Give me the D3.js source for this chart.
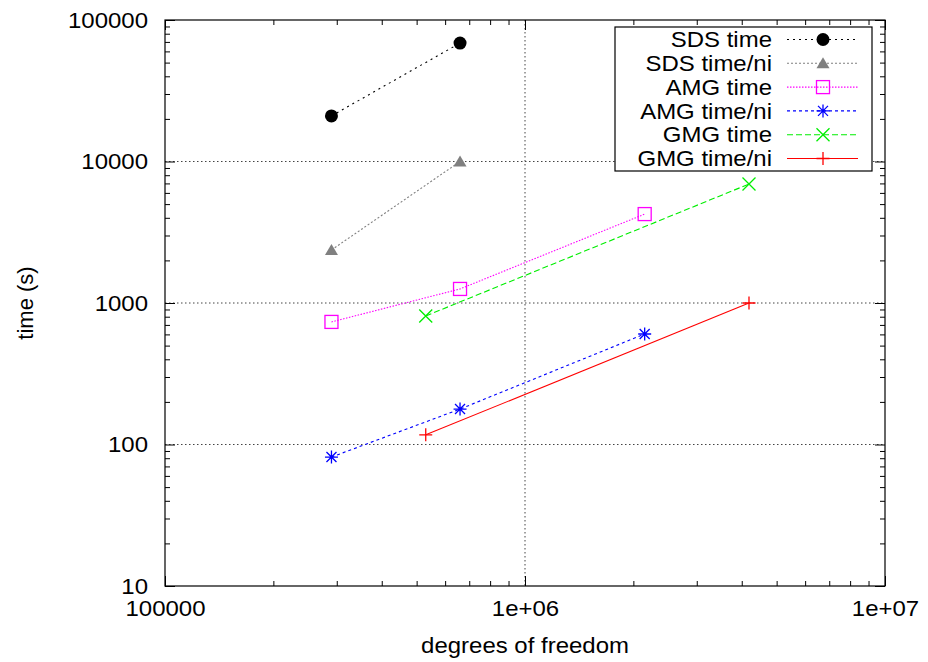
<html>
<meta charset="utf-8">
<head>
  <title>time vs degrees of freedom</title>
  <style>
    body { margin: 0; background: white; }
    text { font-family: 'Liberation Sans', Arial, sans-serif; font-size: 22px; fill: black; }
    .axis path { display: none; }
    .axis line { stroke: black; stroke-width: 1; }
    .grid line { stroke: #444; stroke-width: 1; stroke-dasharray: 1.5,2.5; }
  </style>
  <script src="https://d3js.org/d3.v7.min.js"></script>
</head>
<body>
<div id="chart"></div>
<script>
// series
var sds_dof = [290000, 660000];
var sds_time = [21000, 68700];
var sds_time_ni = [2370, 10000];

var amg_dof = [290000, 660000, 2150000];
var amg_time = [735, 1257, 4250];
var amg_time_ni = [81.5, 178, 604];

var gmg_dof = [530000, 4190000];
var gmg_time = [810, 6930];
var gmg_time_ni = [117, 1000];

var x_ticks = [1e5, 1e6, 1e7];
var x_tick_labels = ["100000", "1e+06", "1e+07"];
var y_ticks = [10, 100, 1000, 10000, 100000];
var y_tick_labels = ["10", "100", "1000", "10000", "100000"];

var names = ["SDS time", "SDS time/ni", "AMG time", "AMG time/ni", "GMG time", "GMG time/ni"];

var margin = { top: 20, right: 43, bottom: 76, left: 165 };
var width = 928 - margin.left - margin.right;
var height = 662 - margin.top - margin.bottom;
var stretch_x = 1.09;   // the picture's text is a bit wide

var x = d3.scaleLog().domain([1e5, 1e7]).range([0, width]);
var y = d3.scaleLog().domain([10, 100000]).range([height, 0]);

var svg = d3.select("#chart")
            .append("svg")
            .attr("width", 928)
            .attr("height", 662);

var chart = svg.append("g")
               .attr("transform", "translate(" + margin.left + "," + margin.top + ")");

// minor tick positions 2..9 per decade
function minors(lo, hi) {
  var out = [];
  for (var d = lo; d < hi; d *= 10) {
    for (var k = 2; k < 10; k++) out.push(d * k);
  }
  return out;
}

// move x/y into a transform so the text can be widened in place
function widen(sel) {
  sel.each(function() {
    var t = d3.select(this);
    var tx = +t.attr("x") || 0, ty = +t.attr("y") || 0;
    t.attr("x", 0).attr("y", 0)
     .attr("transform", "translate(" + tx + "," + ty + ") scale(" + stretch_x + ",1)");
  });
}

// grid
chart.append("g").attr("class", "grid")
     .selectAll("line").data(y_ticks.slice(1, -1)).enter().append("line")
     .attr("x1", 0).attr("x2", width)
     .attr("y1", function(d) { return y(d); })
     .attr("y2", function(d) { return y(d); });
chart.append("g").attr("class", "grid")
     .selectAll("line").data(x_ticks.slice(1, -1)).enter().append("line")
     .attr("y1", 0).attr("y2", height)
     .attr("x1", function(d) { return x(d); })
     .attr("x2", function(d) { return x(d); });

// axes, ticks pointing inward, mirrored
chart.append("g").attr("class", "axis")
     .attr("transform", "translate(0," + height + ")")
     .call(d3.axisBottom(x).tickValues(x_ticks).tickSize(-10).tickPadding(14)
             .tickFormat(function(d, i) { return x_tick_labels[i]; }));
chart.append("g").attr("class", "axis")
     .attr("transform", "translate(0," + height + ")")
     .call(d3.axisBottom(x).tickValues(minors(1e5, 1e7)).tickSize(-5).tickFormat(""));
chart.append("g").attr("class", "axis")
     .call(d3.axisTop(x).tickValues(x_ticks).tickSize(-10).tickFormat(""));
chart.append("g").attr("class", "axis")
     .call(d3.axisTop(x).tickValues(minors(1e5, 1e7)).tickSize(-5).tickFormat(""));

chart.append("g").attr("class", "axis")
     .call(d3.axisLeft(y).tickValues(y_ticks).tickSize(-10).tickPadding(17)
             .tickFormat(function(d, i) { return y_tick_labels[i]; }));
chart.append("g").attr("class", "axis")
     .call(d3.axisLeft(y).tickValues(minors(10, 100000)).tickSize(-5).tickFormat(""));
chart.append("g").attr("class", "axis")
     .attr("transform", "translate(" + width + ",0)")
     .call(d3.axisRight(y).tickValues(y_ticks).tickSize(-10).tickFormat(""));
chart.append("g").attr("class", "axis")
     .attr("transform", "translate(" + width + ",0)")
     .call(d3.axisRight(y).tickValues(minors(10, 100000)).tickSize(-5).tickFormat(""));

chart.selectAll(".axis text").style("font-size", "22px")
     .style("font-family", "'Liberation Sans', Arial, sans-serif")
     .call(widen);

chart.append("rect")
     .attr("width", width).attr("height", height)
     .attr("fill", "none").attr("stroke", "black").attr("stroke-width", 1.2);

// axis titles
chart.append("text")
     .attr("x", width / 2).attr("y", height + 67)
     .attr("text-anchor", "middle")
     .text("degrees of freedom")
     .call(widen);
chart.append("text")
     .attr("transform", "translate(" + (-132) + "," + (height / 2) + ") rotate(-90)")
     .attr("text-anchor", "middle")
     .text("time (s)");

// marker shapes
function marker(g, kind, color) {
  if (kind == "circle") {
    g.append("circle").attr("r", 6.5).attr("fill", color);
  } else if (kind == "triangle") {
    g.append("path").attr("d", "M0,-6L6.5,5L-6.5,5Z").attr("fill", color);
  } else if (kind == "square") {
    g.append("rect").attr("x", -6.5).attr("y", -6.5).attr("width", 13).attr("height", 13)
     .attr("fill", "none").attr("stroke", color).attr("stroke-width", 1.3);
  } else if (kind == "star") {
    g.append("path").attr("d", "M-6.5,0H6.5M0,-6.5V6.5M-5,-5L5,5M-5,5L5,-5")
     .attr("stroke", color).attr("stroke-width", 1.3);
  } else if (kind == "cross") {
    g.append("path").attr("d", "M-6.5,-6.5L6.5,6.5M-6.5,6.5L6.5,-6.5")
     .attr("stroke", color).attr("stroke-width", 1.3);
  } else if (kind == "plus") {
    g.append("path").attr("d", "M-6.5,0H6.5M0,-6.5V6.5")
     .attr("stroke", color).attr("stroke-width", 1.3);
  }
}

var series = [
  { dof: sds_dof, val: sds_time,    color: "#000000", dash: "2,4",   kind: "circle" },
  { dof: sds_dof, val: sds_time_ni, color: "#808080", dash: "2,2",   kind: "triangle" },
  { dof: amg_dof, val: amg_time,    color: "#ff00ff", dash: "1.5,1.5", kind: "square" },
  { dof: amg_dof, val: amg_time_ni, color: "#0000ff", dash: "3,3",   kind: "star" },
  { dof: gmg_dof, val: gmg_time,    color: "#00ee00", dash: "6,3",   kind: "cross" },
  { dof: gmg_dof, val: gmg_time_ni, color: "#ff0000", dash: null,    kind: "plus" }
];

var line = d3.line()
             .x(function(d) { return x(d[0]); })
             .y(function(d) { return y(d[1]); });

series.forEach(function(s) {
  var pts = s.dof.map(function(d, i) { return [d, s.val[i]]; });
  chart.append("path")
       .attr("d", line(pts))
       .attr("fill", "none")
       .attr("stroke", s.color)
       .attr("stroke-width", 1.1)
       .attr("stroke-dasharray", s.dash);
  pts.forEach(function(p) {
    var g = chart.append("g").attr("transform", "translate(" + x(p[0]) + "," + y(p[1]) + ")");
    marker(g, s.kind, s.color);
  });
});

// legend
var leg = svg.append("g");
leg.append("rect")
   .attr("x", 615).attr("y", 27).attr("width", 257).attr("height", 144)
   .attr("fill", "white").attr("stroke", "black").attr("stroke-width", 1.2);

series.forEach(function(s, i) {
  var cy = 39.5 + i * 23.8;
  leg.append("text")
     .attr("x", 772).attr("y", cy)
     .attr("dy", "0.35em")
     .attr("text-anchor", "end")
     .text(names[i])
     .call(widen);
  leg.append("line")
     .attr("x1", 787).attr("x2", 858)
     .attr("y1", cy).attr("y2", cy)
     .attr("stroke", s.color)
     .attr("stroke-width", 1.1)
     .attr("stroke-dasharray", s.dash);
  var g = leg.append("g").attr("transform", "translate(823," + cy + ")");
  marker(g, s.kind, s.color);
});
</script>
</body>
</html>
